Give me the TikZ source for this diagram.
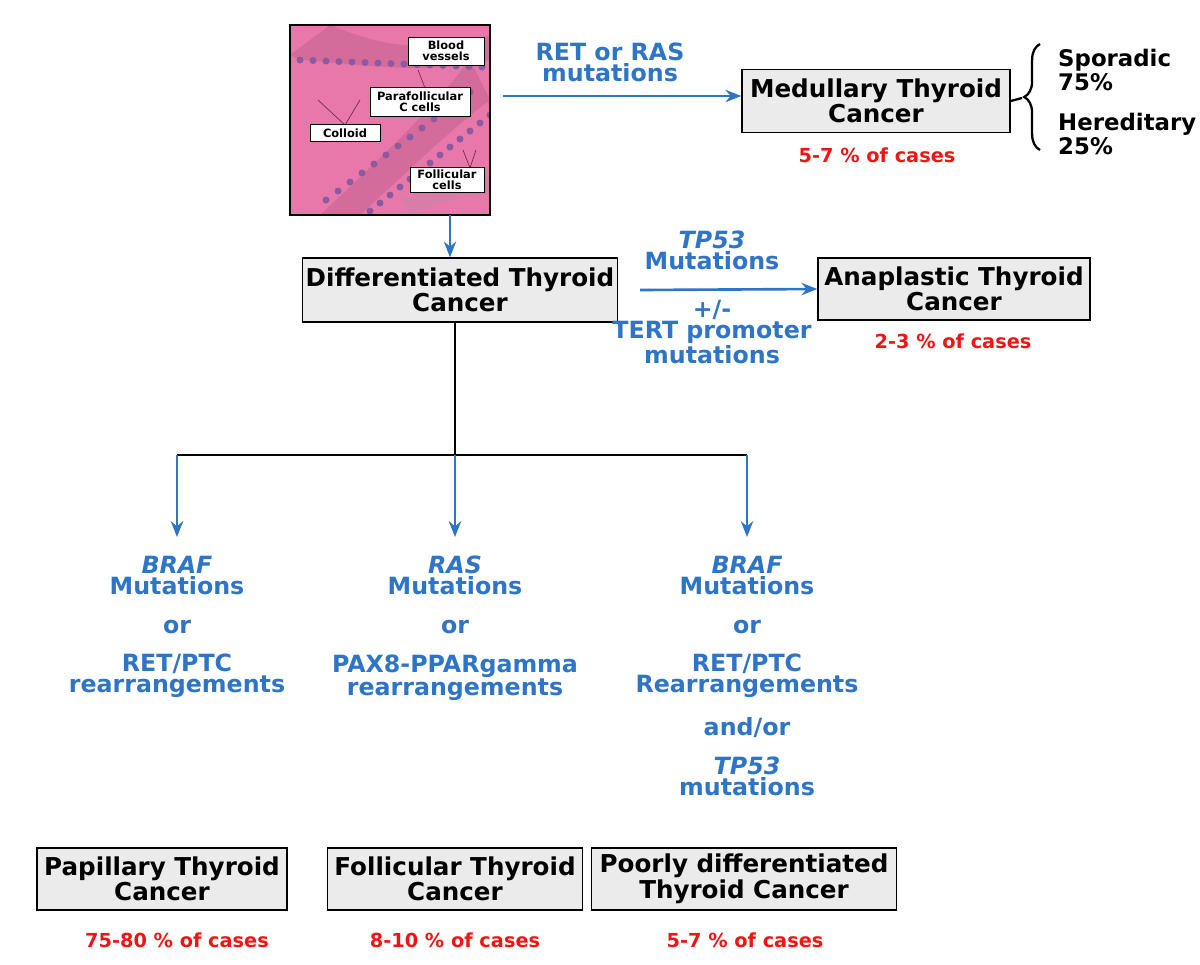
\documentclass[tikz,border=0pt]{standalone}
\usepackage{fontspec}
\setmainfont{DejaVu Sans}
\usetikzlibrary{arrows.meta,decorations.pathreplacing}
\definecolor{blu}{RGB}{46,117,200}
\definecolor{red1}{RGB}{240,20,20}
\definecolor{boxg}{RGB}{235,235,235}
\definecolor{pinkA}{RGB}{232,120,170}
\definecolor{pinkB}{RGB}{200,70,130}
\definecolor{cellc}{RGB}{140,90,160}
\begin{document}
\begin{tikzpicture}[x=0.02cm,y=-0.02cm,
 box/.style={draw=black,fill=boxg,line width=0.8pt,font=\fontsize{14}{12.5}\selectfont\bfseries,align=center,inner sep=0pt},
 bt/.style={text=blu,font=\fontsize{13.5}{12}\selectfont\bfseries,align=center},
 rt/.style={text=red1,font=\fontsize{11}{12}\selectfont\bfseries},
 lab/.style={draw=black,fill=white,font=\fontsize{6.5}{6}\selectfont\bfseries,align=center,inner sep=0pt},
 arr/.style={blu,line width=1.5pt,-{Stealth[length=9pt,width=7pt]}}]
\useasboundingbox (0,0) rectangle (1200,964);
% histology image
\begin{scope}
\clip (290,25) rectangle (490,215);
\fill[pinkA] (290,25) rectangle (490,215);
\fill[pinkB!80] (330,25) .. controls (380,45) and (420,55) .. (490,35) -- (490,60) .. controls (420,75) and (370,65) .. (300,60) -- (290,55) -- cycle;
\fill[pinkB!80] (470,60) .. controls (430,110) and (400,140) .. (320,215) -- (360,215) .. controls (420,160) and (450,130) .. (490,100) -- cycle;
\fill[pinkB!70] (400,200) .. controls (430,185) and (460,180) .. (490,175) -- (490,195) .. controls (460,195) and (430,205) .. (410,215) -- cycle;
\foreach \i in {0,...,14}{\fill[cellc] (300+\i*13,60+\i*0.5) circle (3.5);}
\foreach \i in {0,...,12}{\fill[cellc] (470-\i*12,92+\i*9) circle (3.5);}
\foreach \i in {0,...,12}{\fill[cellc] (490-\i*10,115+\i*8) circle (3.5);}
\end{scope}
\draw[line width=0.8pt] (290,25) rectangle (490,215);
\draw[pinkB!60!black] (345,125) -- (318,100) (345,125) -- (360,100) (470,168) -- (463,150) (470,168) -- (476,150) (425,88) -- (418,70);
\node[lab,minimum width=76*0.02cm,minimum height=28*0.02cm] (bv) at (446,51) {Blood\\vessels};
\node[lab,minimum width=100*0.02cm,minimum height=29*0.02cm] (pc) at (420,102) {Parafollicular\\C cells};
\node[lab,minimum width=70*0.02cm,minimum height=17*0.02cm] (co) at (345,133) {Colloid};
\node[lab,minimum width=74*0.02cm,minimum height=25*0.02cm] (fc) at (447,180) {Follicular\\cells};
\coordinate (imgR) at (503,96);
\coordinate (imgB) at (450,215);
% medullary
\node[box,minimum width=268*0.02cm,minimum height=63*0.02cm] (med) at (876,101) {Medullary Thyroid\\Cancer};
\node[bt] at (610,62) {RET or RAS\\mutations};
\draw[arr] (imgR) -- (imgR -| med.west);
\node[rt] at (877,155) {5-7 \% of cases};
\coordinate (br) at (1022,98);
\draw[line width=1.3pt] (med.east) -- (br);
\draw[line width=1.3pt,decorate,decoration={brace,amplitude=9pt}] (1040,150) -- (1040,44);
\node[font=\fontsize{13}{12}\selectfont\bfseries,align=left,anchor=west] at (1052,70) {Sporadic\\75\%};
\node[font=\fontsize{13}{12}\selectfont\bfseries,align=left,anchor=west] at (1052,134) {Hereditary\\25\%};
% differentiated
\node[box,minimum width=315*0.02cm,minimum height=64*0.02cm] (dif) at (460,290) {Differentiated Thyroid\\Cancer};
\draw[arr,line width=1.2pt] (imgB) -- (dif.north -| imgB);
\node[box,minimum width=272*0.02cm,minimum height=62*0.02cm] (ana) at (954,289) {Anaplastic Thyroid\\Cancer};
\coordinate (da) at (640,290);
\draw[arr] (da) -- (ana.west);
\node[bt] at (712,250) {\itshape TP53\\Mutations};
\node[bt] at (712,332) {+/-\\TERT promoter\\mutations};
\node[rt] at (953,341) {2-3 \% of cases};
% tree
\coordinate (j0) at (455,455);
\coordinate (j1) at (177,455);
\coordinate (j3) at (747,455);
\node[bt,anchor=north] (c1) at (177,550) {\textit{BRAF}\\Mutations\\[10pt]or\\[10pt]RET/PTC\\rearrangements};
\node[bt,anchor=north] (c2) at (455,550) {\textit{RAS}\\Mutations\\[10pt]or\\[10pt]PAX8-PPARgamma\\rearrangements};
\node[bt,anchor=north] (c3) at (747,550) {\textit{BRAF}\\Mutations\\[10pt]or\\[10pt]RET/PTC\\Rearrangements\\[10pt]and/or\\[10pt]\textit{TP53}\\mutations};
\draw[line width=0.8pt] (dif.south -| j0) -- (j0);
\draw[line width=0.8pt] (j1) -- (j3);
\draw[arr] (j1) -- (177,537);
\draw[arr] (j0) -- (455,537);
\draw[arr] (j3) -- (747,537);
% bottom
\node[box,minimum width=250*0.02cm,minimum height=62*0.02cm] (pap) at (162,879) {Papillary Thyroid\\Cancer};
\node[box,minimum width=255*0.02cm,minimum height=62*0.02cm] (fol) at (455,879) {Follicular Thyroid\\Cancer};
\node[box,minimum width=305*0.02cm,minimum height=62*0.02cm] (poo) at (744,879) {Poorly differentiated\\Thyroid Cancer};
\node[rt] at (177,940) {75-80 \% of cases};
\node[rt] at (455,940) {8-10 \% of cases};
\node[rt] at (745,940) {5-7 \% of cases};
\end{tikzpicture}
\end{document}
